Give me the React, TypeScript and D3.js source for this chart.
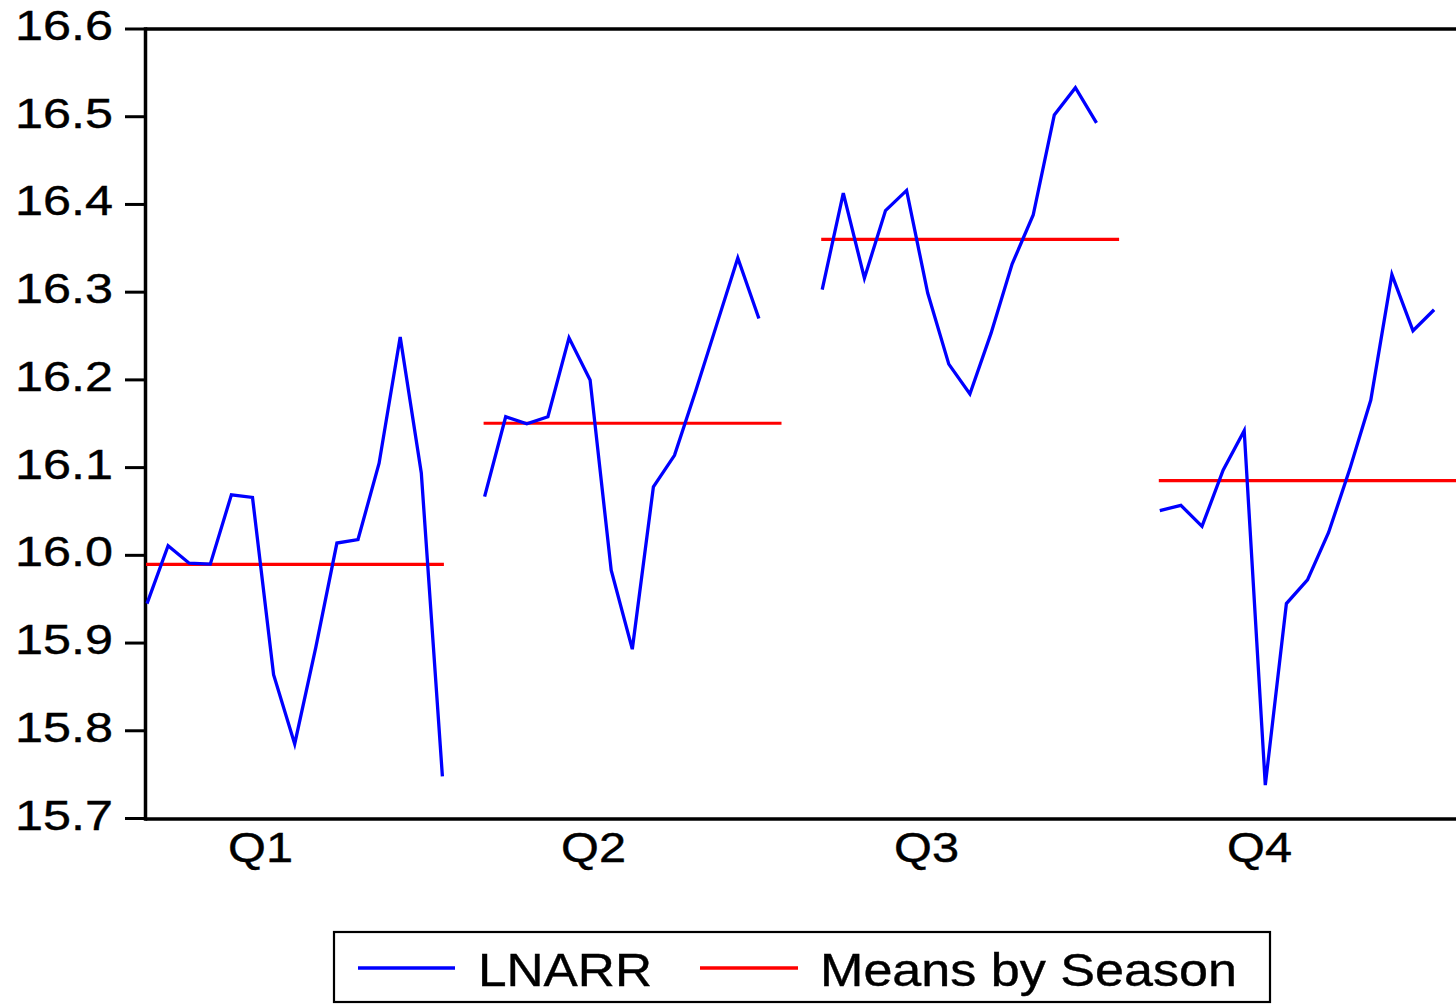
import React from "react";
import * as d3 from "d3";

const seasons = ["Q1", "Q2", "Q3", "Q4"];

const q1Values = [15.945, 16.011, 15.991, 15.99, 16.069, 16.066, 15.864, 15.785, 15.895, 16.014, 16.018, 16.105, 16.249, 16.094, 15.748];
const q2Values = [16.067, 16.158, 16.15, 16.158, 16.248, 16.2, 15.983, 15.893, 16.078, 16.114, 16.187, 16.263, 16.339, 16.27];
const q3Values = [16.303, 16.413, 16.316, 16.393, 16.416, 16.299, 16.218, 16.184, 16.253, 16.332, 16.388, 16.502, 16.533, 16.493];
const q4Values = [16.051, 16.057, 16.033, 16.097, 16.142, 15.738, 15.945, 15.972, 16.026, 16.098, 16.177, 16.32, 16.256, 16.28];

const yTicks = [15.7, 15.8, 15.9, 16.0, 16.1, 16.2, 16.3, 16.4, 16.5, 16.6];
const legendLabels = ["LNARR", "Means by Season"];

const seriesBySeason = [q1Values, q2Values, q3Values, q4Values];
const SLOTS = 16; // slots per season panel
const MEAN_SPAN = 14; // mean line spans 15 slots

export default function App() {
  const W = 1456;
  const H = 1004;
  const axisX = 145.5;
  const top = 29;
  const bottom = 819;

  const y = d3.scaleLinear().domain([15.7, 16.6]).range([818.5, 29]);
  const x = d3.scaleLinear().domain([0, 63]).range([147, 147 + 63 * 21.1]);
  const labelX = d3.scalePoint<string>().domain(seasons).range([260, 1259]);

  const paths = seriesBySeason.map((vals, p) => {
    const gen = d3
      .line<number>()
      .x((_, i) => x(p * SLOTS + i))
      .y((d) => y(d));
    return gen(vals) || "";
  });

  const means = seriesBySeason.map((vals) => d3.mean(vals) as number);

  return (
    <svg
      width={W}
      height={H}
      style={{ position: "absolute", left: 0, top: 0, background: "#fff" }}
      fontFamily="Liberation Sans, Arial, sans-serif"
    >
      <rect x={0} y={0} width={W} height={H} fill="#fff" />
      {/* frame */}
      <line x1={axisX} x2={W} y1={top} y2={top} stroke="#000" strokeWidth={3.5} />
      <line x1={axisX} x2={W} y1={bottom} y2={bottom} stroke="#000" strokeWidth={3.5} />
      <line x1={axisX} x2={axisX} y1={top - 1.75} y2={bottom + 1.75} stroke="#000" strokeWidth={3.5} />
      {/* y ticks */}
      {yTicks.map((t) => (
        <g key={t}>
          <line x1={125} x2={axisX} y1={y(t)} y2={y(t)} stroke="#000" strokeWidth={3} />
          <text x={15} y={y(t) + 11} fontSize={43} textLength={98} lengthAdjust="spacingAndGlyphs" fill="#000" stroke="#000" strokeWidth={0.4}>
            {t.toFixed(1)}
          </text>
        </g>
      ))}
      {/* season labels */}
      {seasons.map((s) => (
        <text key={s} x={(labelX(s) as number) - 32} y={862} fontSize={43} textLength={65} lengthAdjust="spacingAndGlyphs" fill="#000" stroke="#000" strokeWidth={0.4}>
          {s}
        </text>
      ))}
      {/* means */}
      {means.map((m, p) => (
        <line
          key={"m" + p}
          x1={x(p * SLOTS) - 1}
          x2={x(p * SLOTS + MEAN_SPAN) + 1.5}
          y1={y(m)}
          y2={y(m)}
          stroke="#FF0000"
          strokeWidth={3.2}
        />
      ))}
      {/* series */}
      {paths.map((d, p) => (
        <path key={"s" + p} d={d} fill="none" stroke="#0000FF" strokeWidth={3.3} strokeLinejoin="miter" />
      ))}
      {/* legend */}
      <rect x={334} y={932} width={936} height={70} fill="#fff" stroke="#000" strokeWidth={2.2} />
      <line x1={358} x2={455} y1={968} y2={968} stroke="#0000FF" strokeWidth={3.3} />
      <text x={478} y={986} fontSize={46} textLength={174} lengthAdjust="spacingAndGlyphs" fill="#000" stroke="#000" strokeWidth={0.4}>
        {legendLabels[0]}
      </text>
      <line x1={700} x2={798} y1={968} y2={968} stroke="#FF0000" strokeWidth={3.3} />
      <text x={820} y={986} fontSize={46} textLength={417} lengthAdjust="spacingAndGlyphs" fill="#000" stroke="#000" strokeWidth={0.4}>
        {legendLabels[1]}
      </text>
    </svg>
  );
}
